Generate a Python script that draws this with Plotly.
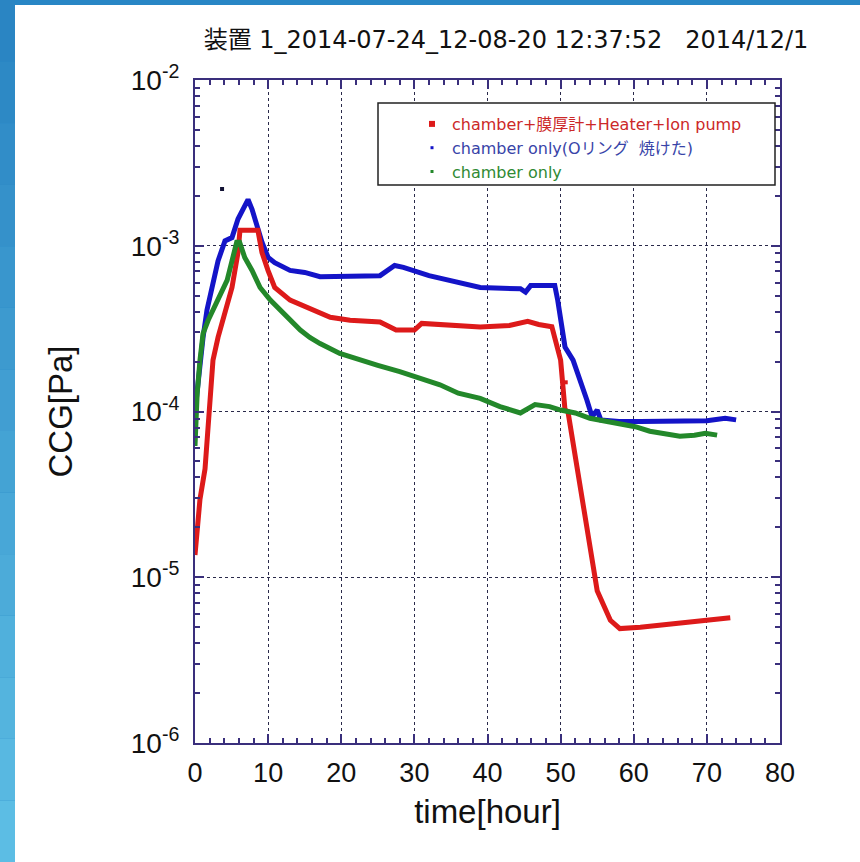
import plotly.graph_objects as go

# ---------------- data ----------------
t_red = [0, 0.68, 1.37, 1.64, 2.05, 2.46, 3.15, 4.1, 5.06, 5.88, 6.15, 8.6, 9.16, 9.98, 10.9, 13, 15,
         18.5, 21.2, 25.3, 27.5, 30, 31, 35, 39, 43, 45.5, 47, 48.8, 50.0, 50.6, 51.0, 52.2, 53.6,
         55.0, 56.8, 58.1, 60.9, 65, 70, 73.2]
p_red = [1.36e-5, 2.95e-5, 4.5e-5, 6.8e-5, 1.35e-4, 2.04e-4, 2.8e-4, 3.9e-4, 5.6e-4, 9.1e-4, 1.24e-3,
         1.24e-3, 9.1e-4, 7.1e-4, 5.6e-4, 4.7e-4, 4.3e-4, 3.7e-4, 3.55e-4, 3.47e-4, 3.1e-4, 3.1e-4,
         3.4e-4, 3.3e-4, 3.24e-4, 3.3e-4, 3.5e-4, 3.35e-4, 3.25e-4, 2.04e-4, 1.02e-4, 1.0e-4, 4.7e-5,
         2.0e-5, 8.3e-6, 5.5e-6, 4.9e-6, 5.0e-6, 5.25e-6, 5.5e-6, 5.7e-6]
t_red_out = [50.7]
p_red_out = [1.5e-4]

t_blue = [0, 0.3, 0.68, 1.1, 1.64, 2.3, 3.15, 4.1, 5.06, 5.88, 6.56, 7.25, 7.8, 8.5, 9.16, 10, 10.9,
          13, 15, 17.1, 19.8, 22.6, 25.3, 27.3, 28.5, 32, 36, 39, 44.5, 45.2, 45.9, 49.2, 49.6, 50.6,
          51.7, 52.7, 53.6, 54.3, 55, 55.5, 58, 60.9, 65, 70, 72.5, 74]
p_blue = [1.0e-4, 1.35e-4, 2.04e-4, 2.8e-4, 4.1e-4, 5.6e-4, 8.1e-4, 1.07e-3, 1.12e-3, 1.45e-3, 1.66e-3,
          1.9e-3, 1.66e-3, 1.29e-3, 1.05e-3, 8.5e-4, 7.9e-4, 7.1e-4, 6.9e-4, 6.5e-4, 6.5e-4, 6.6e-4,
          6.6e-4, 7.6e-4, 7.4e-4, 6.6e-4, 6.0e-4, 5.6e-4, 5.5e-4, 5.25e-4, 5.75e-4, 5.75e-4, 4.7e-4,
          2.45e-4, 2.04e-4, 1.55e-4, 1.17e-4, 9.3e-5, 1.02e-4, 8.9e-5, 8.7e-5, 8.7e-5, 8.7e-5, 8.8e-5,
          9.1e-5, 8.9e-5]
t_blue_out = [3.7]
p_blue_out = [2.2e-3]

t_green = [0, 0.3, 0.68, 1.1, 1.8, 2.46, 3.4, 4.4, 5.06, 5.7, 6.1, 6.8, 7.8, 8.9, 10.3, 11.6, 13, 14.4,
           15.7, 17.1, 19.8, 22.6, 25, 28, 33.5, 36, 39, 41.7, 44.5, 46.5, 48.5, 50, 52, 54, 56.8,
           60.2, 62.2, 66.3, 68.3, 69.8, 71.4]
p_green = [6.2e-5, 1.29e-4, 2.04e-4, 2.95e-4, 3.55e-4, 4.1e-4, 4.9e-4, 6.2e-4, 8.1e-4, 1.05e-3, 1.05e-3,
           8.5e-4, 7.1e-4, 5.6e-4, 4.7e-4, 4.1e-4, 3.55e-4, 3.1e-4, 2.8e-4, 2.57e-4, 2.24e-4, 2.04e-4,
           1.9e-4, 1.74e-4, 1.45e-4, 1.29e-4, 1.2e-4, 1.07e-4, 9.8e-5, 1.1e-4, 1.07e-4, 1.02e-4, 9.8e-5,
           9.1e-5, 8.7e-5, 8.1e-5, 7.6e-5, 7.1e-5, 7.2e-5, 7.4e-5, 7.2e-5]

series_names = ["chamber+膜厚計+Heater+Ion pump", "chamber only(Oリング  焼けた)", "chamber only"]
title_text = "装置 1_2014-07-24_12-08-20 12:37:52   2014/12/1"
x_title = "time[hour]"
y_title = "CCG[Pa]"
y_tickvals = [1e-6, 1e-5, 1e-4, 1e-3, 1e-2]
y_ticktext = ["10<sup>-6</sup>", "10<sup>-5</sup>", "10<sup>-4</sup>", "10<sup>-3</sup>", "10<sup>-2</sup>"]

# ---------------- style ----------------
RED = "#dd1a1a"
BLUE = "#1414c8"
GREEN = "#23882a"
AXIS = "#3a2f7c"
GRID = "#2a2a4a"
SLIDE = "rgb(40,134,197)"

W, H = 860, 862
L, R, T, B = 195, 80, 80, 119
PW, PH = W - L - R, H - T - B


def px2x(px):
    return (px - L) / PW


def px2y(py):
    return (H - B - py) / PH


fig = go.Figure()

fig.add_trace(go.Scatter(x=t_blue, y=p_blue, mode="lines", line=dict(color=BLUE, width=5),
                         showlegend=False, hoverinfo="skip"))
fig.add_trace(go.Scatter(x=t_blue_out, y=p_blue_out, mode="markers",
                         marker=dict(color="#111133", size=4, symbol="square"), showlegend=False))
fig.add_trace(go.Scatter(x=t_red, y=p_red, mode="lines", line=dict(color=RED, width=5),
                         showlegend=False, hoverinfo="skip"))
fig.add_trace(go.Scatter(x=t_red_out, y=p_red_out, mode="markers",
                         marker=dict(color=RED, size=4, symbol="square"), showlegend=False))
fig.add_trace(go.Scatter(x=t_green, y=p_green, mode="lines", line=dict(color=GREEN, width=5),
                         showlegend=False, hoverinfo="skip"))

# legend entries
leg_cols = [("#cc2828", RED, 6), ("#3844a8", BLUE, 3), ("#2f8a33", GREEN, 3)]
for name, (tc, mc, ms) in zip(series_names, leg_cols):
    fig.add_trace(go.Scatter(x=[None], y=[None], mode="markers",
                             marker=dict(color=mc, size=ms, symbol="square"),
                             name=f"<span style='color:{tc}'>{name}</span>"))

shapes = []
# white slide area (paper background is the slide blue, visible as the top bar)
shapes.append(dict(type="rect", xref="paper", yref="paper",
                   x0=px2x(15), x1=px2x(W + 5), y0=px2y(H + 5), y1=px2y(5),
                   line=dict(width=0), fillcolor="white", layer="below"))
# legend box
shapes.append(dict(type="rect", xref="paper", yref="paper",
                   x0=px2x(378), x1=px2x(775), y0=px2y(185), y1=px2y(103),
                   line=dict(color="#222222", width=1.5), fillcolor="white", layer="above"))
# left gradient strip
n = 14
c0 = (0x2a, 0x85, 0xc3)
c1 = (0x5c, 0xbd, 0xe4)
for i in range(n):
    f = i / (n - 1)
    col = "rgb(%d,%d,%d)" % tuple(int(a + (b - a) * f) for a, b in zip(c0, c1))
    shapes.append(dict(type="rect", xref="paper", yref="paper",
                       x0=px2x(0), x1=px2x(15),
                       y0=px2y(H * (i + 1) / n), y1=px2y(H * i / n),
                       line=dict(width=0), fillcolor=col, layer="below"))

fig.update_layout(
    width=W, height=H,
    margin=dict(l=L, r=R, t=T, b=B),
    paper_bgcolor=SLIDE, plot_bgcolor="white",
    title=dict(text=title_text, x=506 / W, xanchor="center", y=1 - 40 / H, yanchor="middle",
               font=dict(family="DejaVu Sans, Noto Sans CJK JP", size=24, color="#111111")),
    showlegend=True,
    legend=dict(x=px2x(412), y=px2y(107), xanchor="left", yanchor="top",
                bgcolor="rgba(0,0,0,0)", borderwidth=0, tracegroupgap=0,
                font=dict(family="DejaVu Sans, Noto Sans CJK JP", size=16)),
    shapes=shapes,
    font=dict(family="Liberation Sans, Arial", color="#111111"),
)

fig.update_xaxes(range=[0, 80], dtick=10, tick0=0,
                 tickfont=dict(size=27, family="Liberation Sans, Arial", color="#111111"),
                 ticks="inside", ticklen=9, tickwidth=1.5, tickcolor=AXIS, ticklabelstandoff=5,
                 showline=True, linecolor=AXIS, linewidth=2, mirror="allticks",
                 minor=dict(ticks="inside", ticklen=5, dtick=2, tickcolor=AXIS, showgrid=False),
                 showgrid=True, gridcolor=GRID, gridwidth=1.2, griddash="dot", zeroline=False,
                 title=dict(text=x_title, font=dict(size=33, family="Liberation Sans, Arial",
                                                    color="#111111"), standoff=12))

fig.update_yaxes(type="log", range=[-6, -2], tickmode="array", tickvals=y_tickvals, ticktext=y_ticktext,
                 tickfont=dict(size=28, family="Liberation Sans, Arial", color="#111111"),
                 ticks="inside", ticklen=9, tickwidth=1.5, tickcolor=AXIS, ticklabelstandoff=8,
                 showline=True, linecolor=AXIS, linewidth=2, mirror="allticks",
                 minor=dict(ticks="inside", ticklen=5, dtick="D1", tickcolor=AXIS, showgrid=False),
                 showgrid=True, gridcolor=GRID, gridwidth=1.2, griddash="dot", zeroline=False,
                 title=dict(text=y_title, font=dict(size=33, family="Liberation Sans, Arial",
                                                    color="#111111"), standoff=48))

fig.write_html("out.html", config={"displayModeBar": False},
               post_script="document.body.style.margin='0';document.body.style.overflow='hidden';")
